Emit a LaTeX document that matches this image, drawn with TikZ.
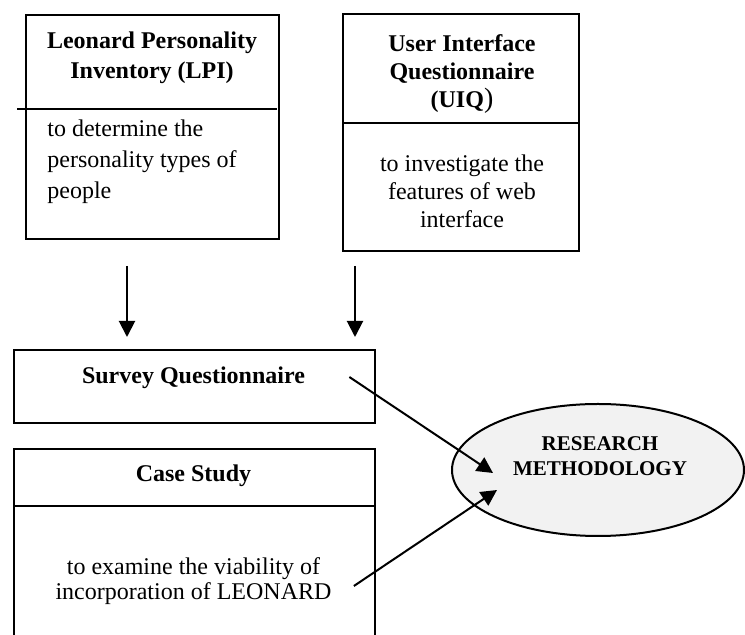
\documentclass[tikz,border=0pt]{standalone}
\usepackage{fontspec}
\setmainfont{Liberation Serif}
\usetikzlibrary{arrows.meta,positioning,shapes.geometric}
\definecolor{ovalgrey}{RGB}{242,242,242}
\tikzset{
  base/.style={font=\fontsize{12}{14}\selectfont, align=center, inner sep=0pt, text=black},
  head/.style={base, font=\fontsize{12}{14}\selectfont\bfseries},
  frame/.style={rectangle, draw=black, line width=1pt, inner sep=0pt, anchor=north west},
  rule/.style={line width=1pt, draw=black},
  oval/.style={ellipse, draw=black, fill=ovalgrey, line width=1pt, inner sep=0pt},
  arr/.style={-{Triangle[length=8pt,width=8pt]}, line width=1pt, draw=black},
}
\begin{document}
\begin{tikzpicture}[x=0.5pt,y=-0.5pt]
  \useasboundingbox (0,0) rectangle (745,635);
  % top row: the two instruments
  \node[frame,minimum width=126.5pt,minimum height=112pt] (lpi) at (25,14) {};
  \node[head,font=\fontsize{12}{15}\selectfont\bfseries] (lpit) at (152,58) {Leonard Personality\\Inventory (LPI)};
  \draw[rule] (17,109) -- (277,109);
  \node[base,align=left,anchor=west,font=\fontsize{12}{15.5}\selectfont] (lpib) at (47,162) {to determine the\\personality types of\\people};
  \node[frame,minimum width=118pt,minimum height=118.5pt] (uiq) at (342,13) {};
  \node[head] (uiqt) at (462,74) {User Interface\\Questionnaire\\(UIQ{\fontsize{14}{14}\selectfont\mdseries)}};
  \draw[rule] (342,123) -- (578,123);
  \node[base] (uiqb) at (462,191) {to investigate the\\features of web\\interface};
  \draw[arr] ([shift={(-12.75pt,-13pt)}]lpi.south) coordinate (a1) -- ([yshift=6pt]a1 |- 0,349);
  \draw[arr] ([shift={(6.5pt,-7pt)}]uiq.south west) coordinate (a2) -- ([yshift=6pt]a2 |- 0,349);
  % bottom row
  \node[frame,minimum width=180.5pt,minimum height=36.5pt] (svy) at (13,349) {};
  \node[head] (svyt) at (193.5,378) {Survey Questionnaire};
  \node[frame,minimum width=180.5pt,minimum height=100pt] (case) at (13,448) {};
  \node[head] (caset) at (193.5,476) {Case Study};
  \draw[rule] (13,506) -- (374,506);
  \node[base,font=\fontsize{12}{12.5}\selectfont] (caseb) at (193.5,581) {to examine the viability of\\incorporation of LEONARD};
  % methodology oval
  \node[oval,minimum width=146pt,minimum height=66pt] (rm) at (598,470) {};
  \node[head,font=\fontsize{10.5}{12.5}\selectfont\bfseries] (rmt) at (600,456) {RESEARCH\\METHODOLOGY};
  \draw[arr] ([shift={(22pt,0.5pt)}]svyt.east) -- ([shift={(-52.5pt,-1.5pt)}]rm.center);
  \draw[arr] ([shift={(11pt,-2.5pt)}]caseb.east) -- ([shift={(-50.5pt,-10pt)}]rm.center);
\end{tikzpicture}
\end{document}
